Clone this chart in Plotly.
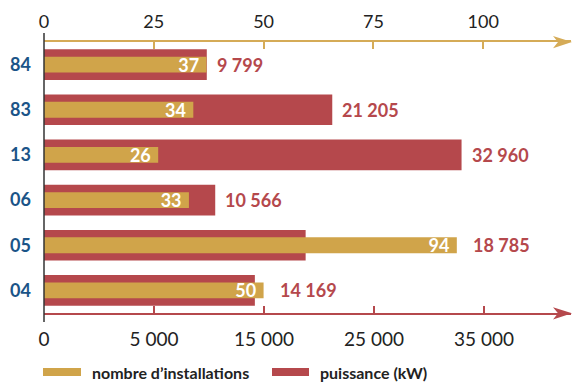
import plotly.graph_objects as go

# Departments and their two series
departements = ["84", "83", "13", "06", "05", "04"]
installations = [37, 34, 26, 33, 94, 50]          # nombre d'installations
puissance_kw = [9799, 21205, 32960, 10566, 18785, 14169]  # puissance (kW)

top_ticks = [0, 25, 50, 75, 100]
bottom_tickvals = [-5000, 5000, 15000, 25000, 35000]
bottom_ticktext = ["0", "5 000", "15 000", "25 000", "35 000"]

GOLD = "#d0a44a"
GOLD_AXIS = "#d5ab57"
RED = "#b5484c"
BLUE = "#1b5488"
INK = "#222222"
FONT = "Lato"

W, H = 572, 382
ML, MR, MT, MB = 44, 1, 42, 69
PW, PH = W - ML - MR, H - MT - MB

# Axis ranges: the kW axis starts its bars at the "0" tick (-5000 on the scale)
KW_ORIGIN = -5000
KW_RANGE = [KW_ORIGIN, 42909]
N_RANGE = [0, 120]


def px_x(px):
    return (px - ML) / PW


def px_y(py):
    return (H - MB - py) / PH


def fmt_kw(v):
    return f"{v:,}".replace(",", " ")


fig = go.Figure()

fig.add_trace(go.Bar(
    y=departements,
    x=[v - KW_ORIGIN for v in puissance_kw],
    base=KW_ORIGIN,
    orientation="h",
    width=0.68,
    marker=dict(color=RED, line=dict(width=0)),
    name="puissance (kW)",
    xaxis="x", yaxis="y",
    showlegend=False,
))

fig.add_trace(go.Bar(
    y=departements,
    x=installations,
    orientation="h",
    width=0.35,
    marker=dict(color=GOLD, line=dict(width=0)),
    # trailing no-break space keeps the count clear of the bar end
    text=[f"{v}\u00a0" for v in installations],
    textposition="inside",
    insidetextanchor="end",
    textangle=0,
    constraintext="none",
    textfont=dict(family=FONT, size=18, color="white", weight="bold"),
    name="nombre d'installations",
    xaxis="x2", yaxis="y",
    showlegend=False,
))

annotations = []
# kW value labels placed just past the longer of the two bars in each row
for i, (n, kw) in enumerate(zip(installations, puissance_kw)):
    frac_n = (n - N_RANGE[0]) / (N_RANGE[1] - N_RANGE[0])
    frac_kw = (kw - KW_RANGE[0]) / (KW_RANGE[1] - KW_RANGE[0])
    if frac_n > frac_kw:
        xref, xv, shift = "x2", n, 14
    else:
        xref, xv, shift = "x", kw, 8
    annotations.append(dict(
        x=xv, y=i, xref=xref, yref="y",
        text=fmt_kw(kw), showarrow=False,
        xanchor="left", yanchor="middle", xshift=shift,
        font=dict(family=FONT, size=18, color=RED, weight="bold"),
    ))

# Legend drawn by hand
legend_items = [
    (43, 81, 90, GOLD, "nombre d’installations"),
    (272, 309, 318, RED, "puissance (kW)"),
]
shapes = []
for x0, x1, tx, col, label in legend_items:
    shapes.append(dict(type="rect", xref="paper", yref="paper",
                       x0=px_x(x0), x1=px_x(x1), y0=px_y(376), y1=px_y(368),
                       fillcolor=col, line=dict(width=0)))
    annotations.append(dict(x=px_x(tx), y=px_y(372), xref="paper", yref="paper",
                            text=label, showarrow=False, xanchor="left", yanchor="middle",
                            font=dict(family=FONT, size=16, color=INK, weight="bold")))

# Vertical baseline at the common origin
shapes.append(dict(type="line", xref="paper", yref="paper",
                   x0=0, x1=0, y0=px_y(322), y1=px_y(33),
                   line=dict(color="#333333", width=1.5)))

# Arrowheads on both horizontal axes
for axis_py, col in [(42, GOLD_AXIS), (313.3, RED)]:
    path = (f"M{px_x(572)},{px_y(axis_py)} "
            f"L{px_x(553)},{px_y(axis_py - 6)} "
            f"L{px_x(558)},{px_y(axis_py)} "
            f"L{px_x(553)},{px_y(axis_py + 6.3)} Z")
    shapes.append(dict(type="path", xref="paper", yref="paper", path=path,
                       fillcolor=col, line=dict(width=0)))

fig.update_layout(
    width=W, height=H,
    margin=dict(l=ML, r=MR, t=MT, b=MB, pad=0),
    paper_bgcolor="white", plot_bgcolor="white",
    barmode="overlay",
    font=dict(family=FONT, color=INK),
    xaxis=dict(
        range=KW_RANGE, side="bottom", anchor="y",
        tickvals=bottom_tickvals, ticktext=bottom_ticktext,
        ticks="inside", ticklen=7, tickwidth=1.5, tickcolor=RED,
        showline=True, linecolor=RED, linewidth=1.5,
        showgrid=False, zeroline=False,
        tickfont=dict(family=FONT, size=19, color=INK),
        ticklabelstandoff=8,
    ),
    xaxis2=dict(
        range=N_RANGE, side="top", overlaying="x", anchor="y",
        tickvals=top_ticks,
        ticks="inside", ticklen=7, tickwidth=1.5, tickcolor=GOLD_AXIS,
        showline=True, linecolor=GOLD_AXIS, linewidth=1.5,
        showgrid=False, zeroline=False,
        tickfont=dict(family=FONT, size=18, color=INK),
        ticklabelstandoff=5,
    ),
    yaxis=dict(
        type="category", range=[5.5, -0.5],
        categoryorder="array", categoryarray=departements,
        showline=False, showgrid=False, zeroline=False, ticks="",
        tickfont=dict(family=FONT, size=18, color=BLUE, weight="bold"),
        ticklabelstandoff=12,
    ),
    shapes=shapes,
    annotations=annotations,
)

fig.write_html("out.html")
